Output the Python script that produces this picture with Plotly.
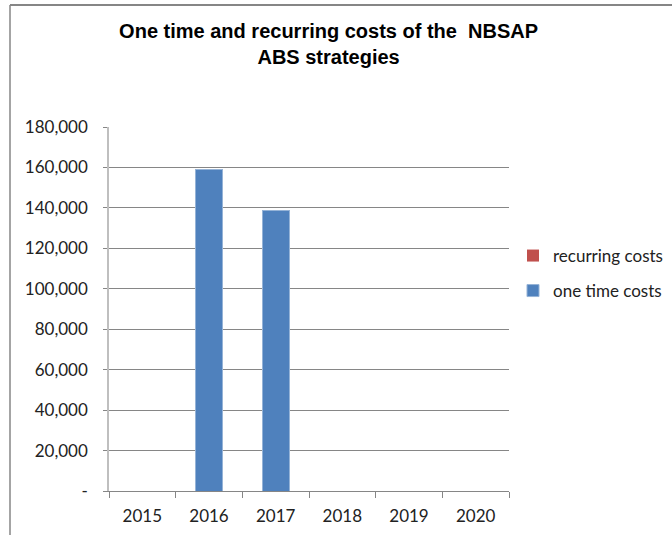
import plotly.graph_objects as go

years = ["2015", "2016", "2017", "2018", "2019", "2020"]
one_time_costs = [0, 158900, 138800, 0, 0, 0]
recurring_costs = [0, 0, 0, 0, 0, 0]
y_tick_vals = [0, 20000, 40000, 60000, 80000, 100000, 120000, 140000, 160000, 180000]
y_tick_text = ["-", "20,000", "40,000", "60,000", "80,000", "100,000", "120,000", "140,000", "160,000", "180,000"]

fig = go.Figure()
fig.add_trace(go.Bar(x=years, y=one_time_costs, name="one time costs",
                     marker=dict(color="#4F81BD", line=dict(color="#95B3D7", width=1)),
                     width=0.4, legend="legend2"))
fig.add_trace(go.Bar(x=years, y=recurring_costs, name="recurring costs",
                     marker=dict(color="#C0504D", line=dict(width=0)),
                     width=0.4, legend="legend"))

L, R, T, B = 109, 163, 127, 44
W, H = 672, 535
pw = W - L - R
ph = H - T - B

leg_common = dict(xref="container", yref="container", xanchor="left", yanchor="middle",
                  bgcolor="rgba(0,0,0,0)", font=dict(size=17, color="#222222"),
                  itemwidth=30, borderwidth=0)

fig.update_layout(
    width=W, height=H, barmode="stack",
    margin=dict(l=L, r=R, t=T, b=B, pad=0, autoexpand=False),
    paper_bgcolor="white", plot_bgcolor="white",
    font=dict(family="Lato, Carlito, sans-serif", size=17, color="#222222"),
    title=dict(text="<b>One time and recurring costs of the  NBSAP<br>ABS strategies</b>",
               font=dict(family="Liberation Sans, Arial", size=20, color="black"),
               x=0.489, xanchor="center", xref="container",
               y=1 - 38 / H, yanchor="top", yref="container"),
    showlegend=True,
    legend=dict(x=513 / W, y=1 - 256 / H, **leg_common),
    legend2=dict(x=513 / W, y=1 - 291 / H, **leg_common),
    xaxis=dict(type="category", showgrid=False, showline=True, linecolor="#868686", linewidth=1,
               ticks="outside", tickson="boundaries", ticklen=6, tickcolor="#868686",
               tickfont=dict(size=17, color="#222222"), zeroline=False, ticklabelstandoff=10),
    yaxis=dict(range=[0, 180000], tickvals=y_tick_vals, ticktext=y_tick_text,
               showgrid=True, gridcolor="#868686", gridwidth=1,
               showline=True, linecolor="#BFBFBF", linewidth=1.5,
               ticks="outside", ticklen=4, tickcolor="#868686",
               tickfont=dict(size=17, color="#222222"), zeroline=False, ticklabelstandoff=12),
)

# chart border (left and top edges)
bx = (10 - L) / pw
by = 1 + (T - 5) / ph
fig.add_shape(type="line", xref="paper", yref="paper", x0=bx, x1=bx, y0=-0.2, y1=by,
              line=dict(color="#868686", width=1.5))
fig.add_shape(type="line", xref="paper", yref="paper", x0=bx, x1=(W - L) / pw, y0=by, y1=by,
              line=dict(color="#868686", width=2))

fig.write_html("out.html")
